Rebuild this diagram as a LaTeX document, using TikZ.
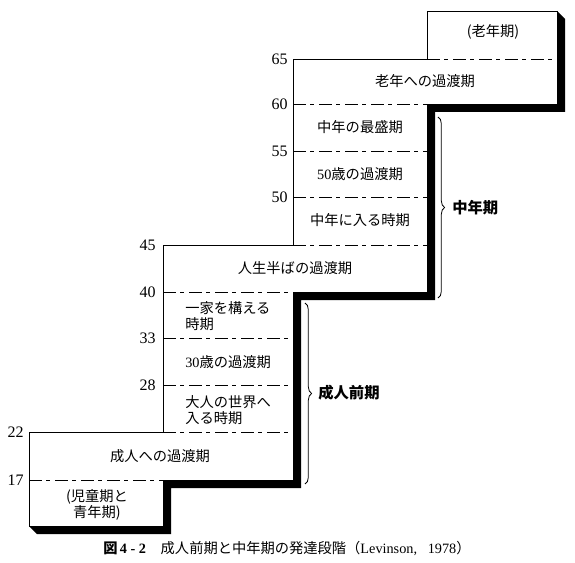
\documentclass[tikz,border=0pt]{standalone}
\usepackage{fontspec}
\setmainfont{Liberation Serif}
\newfontfamily\jp{Noto Sans CJK JP}
\usetikzlibrary{decorations.pathreplacing}
\begin{document}
\begin{tikzpicture}[x=0.75pt,y=-0.75pt,
  outline/.style={line width=0.7pt, fill=white},
  shadowfill/.style={fill=black},
  stagesep/.style={line width=0.6pt, dash pattern=on 9.5pt off 3.5pt on 3pt off 3.5pt},
  lbl/.style={font=\jp\fontsize{10.7}{12}\selectfont, inner sep=0pt, align=center},
  lbll/.style={lbl, align=left, anchor=west},
  age/.style={font=\fontsize{12}{12}\selectfont, anchor=east, inner sep=0pt},
  bracket/.style={decorate, decoration={brace, amplitude=5pt}, line width=0.6pt},
  tag/.style={font=\jp\bfseries\fontsize{11.5}{14}\selectfont, anchor=west, inner sep=0pt},
  caption/.style={font=\fontsize{10.7}{12}\selectfont, anchor=west, inner sep=0pt}]
\useasboundingbox[fill=white] (0,0) rectangle (575,563);

% shadow (extrusion)
\fill[shadowfill] (557,11) -- (557,104) -- (427,104) -- (427,292) -- (293,292) -- (293,480)
  -- (163,480) -- (163,526) -- (29,526) -- (37,534) -- (171,534) -- (171,488) -- (301,488)
  -- (301,300) -- (435,300) -- (435,112) -- (565,112) -- (565,19) -- cycle;

% staircase outline
\draw[outline] (29,526) -- (29,432) -- (163,432) -- (163,245) -- (293,245) -- (293,59)
  -- (427,59) -- (427,11) -- (557,11) -- (557,104) -- (427,104) -- (427,292) -- (293,292)
  -- (293,480) -- (163,480) -- (163,526) -- cycle;

% stage separators
\draw[stagesep] (29,480) -- (163,480);
\draw[stagesep] (163,432) -- (293,432);
\draw[stagesep] (163,385) -- (293,385);
\draw[stagesep] (163,338) -- (293,338);
\draw[stagesep] (163,292) -- (293,292);
\draw[stagesep] (293,245) -- (427,245);
\draw[stagesep] (293,197) -- (427,197);
\draw[stagesep] (293,151) -- (427,151);
\draw[stagesep] (293,104) -- (427,104);
\draw[stagesep] (427,59) -- (557,59);

% ages
\node[age] (a65) at (288,59) {65};
\node[age] (a60) at (288,104) {60};
\node[age] (a55) at (288,151) {55};
\node[age] (a50) at (288,197) {50};
\node[age] (a45) at (156,245) {45};
\node[age] (a40) at (156,292) {40};
\node[age] (a33) at (156,338) {33};
\node[age] (a28) at (156,385) {28};
\node[age] (a22) at (24,432) {22};
\node[age] (a17) at (24,480) {17};

% stage labels
\node[lbl] (old) at (493,32) {(老年期)};
\node[lbl] (late) at (425,81) {老年への過渡期};
\node[lbl] (prime) at (360,127) {中年の最盛期};
\node[lbl] (fifty) at (360,174) {\textrm{50}歳の過渡期};
\node[lbl] (entermid) at (360,220) {中年に入る時期};
\node[lbl] (midlife) at (295,268) {人生半ばの過渡期};
\node[lbll] (family) at (185,316) {一家を構える\\時期};
\node[lbll] (thirty) at (185,362) {\textrm{30}歳の過渡期};
\node[lbll] (adult) at (185,410) {大人の世界へ\\入る時期};
\node[lbl] (early) at (160,456) {成人への過渡期};
\node[lbl] (child) at (97,505) {(児童期と\\青年期)};

% braces
\draw[bracket] (438,117) -- (438,298);
\node[tag] (mid) at (452,208) {中年期};
\draw[bracket] (305,303) -- (305,484);
\node[tag] (earlyad) at (318,393) {成人前期};

% caption
\node[caption] (cap) at (103,548) {{\jp\bfseries 図}\,\textbf{4 - 2}\hspace{11pt}{\jp 成人前期と中年期の発達段階（}Levinson,\hspace{8pt}1978{\jp ）}};
\end{tikzpicture}
\end{document}
